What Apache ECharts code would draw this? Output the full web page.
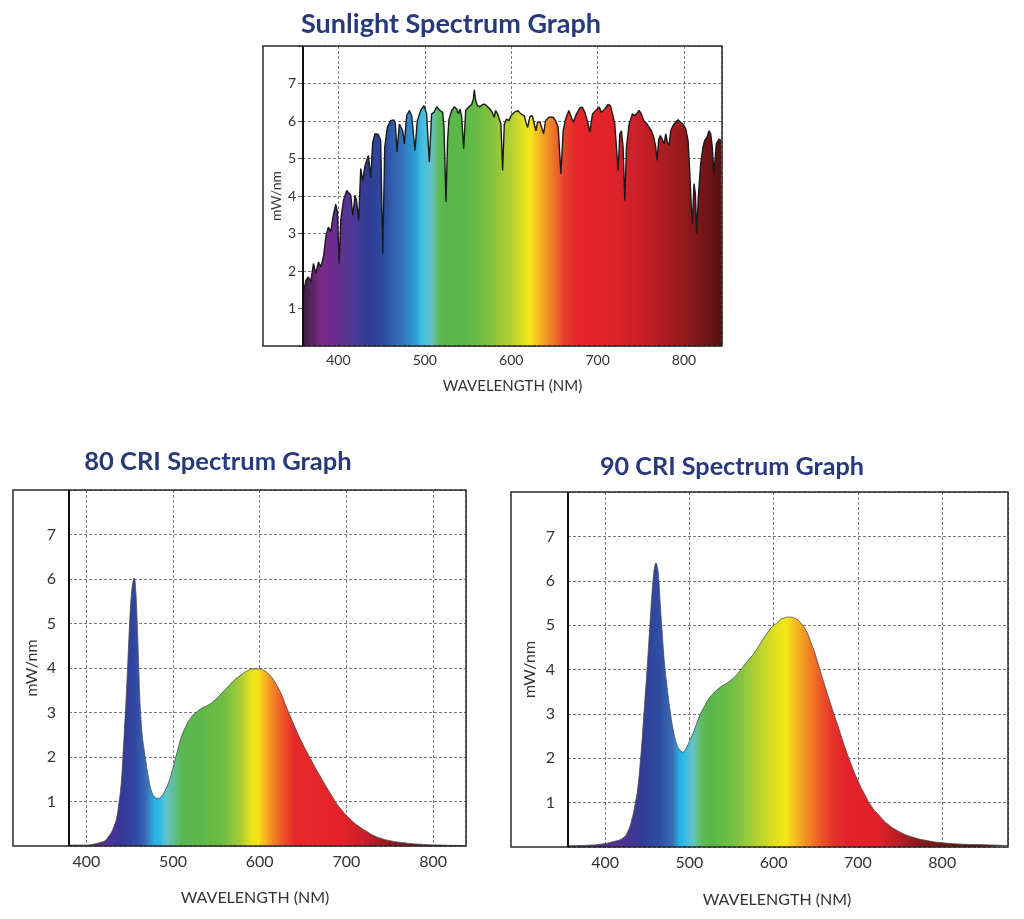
<!DOCTYPE html>
<html>
<head>
<meta charset="utf-8">
<title>Spectrum Graphs</title>
<script src="https://cdn.jsdelivr.net/npm/echarts@6/dist/echarts.min.js"></script>
<style>
  html, body { margin: 0; padding: 0; background: #fff; }
  #chart { width: 1024px; height: 919px; }
</style>
</head>
<body>
<div id="chart"></div>
<script>
// ---- data ----
var titles = ['Sunlight Spectrum Graph', '80 CRI Spectrum Graph', '90 CRI Spectrum Graph'];
var xTicks = [400, 500, 600, 700, 800];
var yTicks = [1, 2, 3, 4, 5, 6, 7];

var sunWl = [359, 360.3, 362.6, 365.3, 368, 371.1, 373.8, 376.9, 379.6, 382.7, 385.7, 388.4, 391.1, 393.4, 396.9, 398.8,
  400.8, 402.7, 405.8, 409.6, 411.6, 414.3, 416.6, 419.3, 421.2, 423.5, 425.8, 428.1, 430.8, 434.7, 437.4, 439.7,
  442.4, 446.2, 448.9, 451.3, 453.6, 456.6, 460.5, 464.4, 465.9, 467.8, 470.5, 472.4, 474.4, 476.3, 479, 482.1,
  484.8, 488.6, 491.3, 495.2, 499, 502.1, 505.2, 507.9, 510.6, 513.7, 517.5, 520.6, 522.2, 524.5, 526.4, 528,
  531.1, 534.2, 536.9, 538.8, 540.7, 542.7, 545, 547.3, 551.1, 554.2, 556.2, 557.3, 558.9, 560.8, 563.9, 566.6,
  569.6, 572.7, 575.4, 578.1, 580.4, 582, 584.3, 586.2, 588.1, 590.1, 592, 594.7, 597.4, 599.7, 603.6, 607.4,
  611.3, 615.1, 617, 619, 621.7, 624.4, 626.7, 628.6, 630.5, 633.2, 635.2, 637.5, 639.8, 643.6, 645.9, 648.6,
  651.3, 654.4, 657.5, 660.2, 662.9, 666.7, 669, 671.8, 673.7, 675.6, 679.5, 682.2, 685.3, 689.1, 691, 694.1,
  697.9, 701.8, 704.5, 708.3, 712.2, 714.9, 717.2, 719.9, 721.8, 723.8, 725.7, 727.6, 729.5, 731.5, 733.4, 736.5,
  740.3, 743, 745.7, 748, 750.7, 753.4, 755.7, 757.3, 759.6, 762.3, 765, 767.3, 768.8, 770.8, 772.7, 775,
  777, 778.9, 780.8, 782.7, 784.6, 787.3, 790.4, 793.1, 795.8, 798.9, 802, 804.7, 806.6, 808.5, 809.7, 811.6,
  813.2, 814.7, 816.6, 819.3, 822, 824, 826.6, 829, 830.9, 832.8, 834.7, 837.4, 840.5, 843.2, 844];
var sunVal = [1.45, 1.53, 1.76, 1.84, 1.71, 2.2, 1.93, 2.24, 2.11, 2.38, 2.95, 3.17, 3.04, 3.4, 3.78, 3.57,
  2.2, 3.35, 3.88, 4.15, 4.19, 4.02, 3.48, 4.02, 3.84, 3.35, 4.73, 4.41, 4.81, 5.08, 4.5, 5.43,
  5.66, 5.64, 5.48, 2.46, 5.3, 5.83, 6.01, 6.03, 5.92, 5.17, 5.92, 5.97, 5.74, 5.39, 6.14, 6.28,
  6.14, 5.21, 6.01, 6.28, 6.41, 6.19, 4.9, 6.19, 6.23, 6.38, 6.28, 6.23, 5.83, 3.84, 5.5, 6.05,
  6.28, 6.38, 6.32, 6.19, 6.32, 6.1, 5.26, 6.28, 6.38, 6.44, 6.59, 6.83, 6.54, 6.41, 6.38, 6.44,
  6.45, 6.38, 6.32, 6.23, 6.1, 6.28, 6.19, 6.14, 5.92, 4.68, 5.92, 6.05, 6.01, 6.14, 6.23, 6.28,
  6.19, 6.14, 5.97, 5.83, 6.12, 6.14, 5.92, 5.74, 5.97, 5.97, 5.83, 5.66, 6.01, 6.1, 6.14, 6.1,
  6.01, 5.83, 4.59, 5.74, 6.05, 6.28, 6.29, 5.97, 5.92, 6.19, 6.35, 6.37, 6.23, 5.92, 5.7, 6.19,
  6.28, 6.37, 6.23, 6.32, 6.44, 6.41, 6.19, 5.92, 5.3, 4.68, 5.66, 5.74, 5.3, 3.88, 5.3, 5.92,
  6.19, 6.14, 6.21, 6.28, 6.19, 6.01, 5.97, 5.92, 5.83, 5.74, 5.57, 5.3, 4.95, 5.52, 5.61, 5.66,
  5.39, 5.66, 5.43, 5.35, 5.74, 5.88, 5.97, 6.03, 5.97, 5.92, 5.79, 5.48, 4.68, 3.71, 3.26, 4.33,
  4.06, 3.0, 3.97, 4.86, 5.3, 5.48, 5.57, 5.74, 5.66, 5.3, 4.59, 5.39, 5.52, 5.48, 5.48];

var cri80Wl = [380, 395, 405, 410.4, 416, 421.6, 425, 429, 432, 434.7, 437.5, 440.3, 442, 444, 446, 447.8,
  449.3, 450.7, 452, 453.4, 455.2, 457, 458, 459, 460.3, 461.6, 463, 464.6, 466.5, 468.3, 472, 475.7,
  479.5, 483.2, 487, 490.7, 495.5, 500, 504.5, 509.3, 514.9, 520.5, 526.1, 533.6, 541, 548.5, 556, 563.4,
  570.9, 578.4, 585.8, 593.3, 598.9, 604.5, 610, 615, 620, 625, 630, 635, 640, 645, 650, 655,
  660, 665, 670, 675, 680, 685, 690, 695, 700, 708, 716, 724, 732, 740, 750, 763, 785, 810, 838];
var cri80Val = [0.02, 0.02, 0.03, 0.05, 0.08, 0.12, 0.2, 0.31, 0.45, 0.61, 0.95, 1.42, 1.95, 2.62, 3.35, 4.1,
  4.75, 5.29, 5.65, 5.89, 6.02, 5.73, 5.35, 4.85, 4.1, 3.36, 2.85, 2.47, 2.18, 1.95, 1.5, 1.2,
  1.09, 1.07, 1.13, 1.24, 1.46, 1.76, 2.09, 2.43, 2.69, 2.88, 2.99, 3.1, 3.17, 3.28, 3.43, 3.58,
  3.73, 3.84, 3.94, 3.98, 3.98, 3.95, 3.87, 3.76, 3.6, 3.41, 3.16, 2.93, 2.7, 2.48, 2.28, 2.09,
  1.91, 1.73, 1.56, 1.39, 1.23, 1.07, 0.92, 0.8, 0.69, 0.54, 0.42, 0.32, 0.23, 0.17, 0.12, 0.08, 0.04, 0.02, 0.01];

var cri90Wl = [356, 380, 394, 409.6, 421, 427, 432.7, 435.5, 438.5, 441.5, 444.2, 447, 450, 452, 453.8, 455.8,
  457.7, 459, 460.4, 461.5, 462.7, 464, 465.4, 467.3, 469.2, 471, 473, 475, 477, 480.8, 484.6, 488.5,
  492.3, 496.2, 500, 505.9, 511.8, 517.6, 523.5, 529.4, 537.3, 545, 553, 560.8, 568.6, 576.5, 584.3, 592,
  600, 604.8, 608, 612.7, 616.5, 620.6, 624.6, 628.6, 632.5, 636.5, 640.5, 644.4, 648.4, 652.4, 656.3, 660.3,
  668.3, 676.2, 684.1, 692, 700, 707.9, 715.9, 723.8, 735.7, 747.6, 763.5, 783.3, 803.2, 827, 850.8, 878];
var cri90Val = [0.03, 0.04, 0.06, 0.12, 0.2, 0.35, 0.69, 0.95, 1.29, 1.85, 2.49, 3.25, 4.06, 4.65, 5.19, 5.75,
  6.16, 6.33, 6.4, 6.35, 6.24, 5.95, 5.49, 4.95, 4.44, 4.03, 3.69, 3.37, 3.09, 2.64, 2.34, 2.19,
  2.14, 2.23, 2.38, 2.64, 2.94, 3.16, 3.35, 3.48, 3.61, 3.7, 3.82, 3.99, 4.18, 4.36, 4.59, 4.81,
  5.0, 5.05, 5.13, 5.16, 5.18, 5.18, 5.16, 5.12, 5.04, 4.94, 4.8, 4.6, 4.4, 4.15, 3.9, 3.66,
  3.18, 2.73, 2.27, 1.86, 1.49, 1.19, 0.92, 0.74, 0.51, 0.36, 0.23, 0.14, 0.09, 0.06, 0.05, 0.03];

var seriesWl = [sunWl, cri80Wl, cri90Wl];
var seriesVal = [sunVal, cri80Val, cri90Val];

// ---- styles ----
// spectrum colour stops per chart: [wavelength, colour]
var spectrumStops = [
  [[359, '#3a1c40'], [368, '#55265f'], [380, '#7a2a88'], [395, '#6c2b8c'], [415, '#4f3896'], [435, '#2f3c95'],
   [455, '#2e4ea3'], [472, '#3470b8'], [488, '#2a9bd6'], [497, '#40bde2'], [507, '#62c3c8'], [517, '#5fba55'],
   [525, '#56b748'], [550, '#5db947'], [575, '#80c040'], [600, '#b6d032'], [614, '#e2e022'], [623, '#f5e51b'],
   [632, '#f6b824'], [645, '#f08426'], [660, '#e8462a'], [675, '#e42529'], [720, '#e0222a'], [757, '#c21e26'],
   [795, '#9a1b1f'], [820, '#7a1518'], [844, '#561010']],
  [[380, '#4a2a80'], [420, '#5a2e92'], [440, '#36399a'], [455, '#2e45a0'], [468, '#3a68b5'], [478, '#2cabe3'],
   [484, '#2ab8e8'], [492, '#62c2cc'], [502, '#5fbe8a'], [510, '#5ab850'], [530, '#5cb848'], [560, '#72bd43'],
   [578, '#a8cd35'], [590, '#e8e21e'], [598, '#f5e41a'], [606, '#f7b523'], [615, '#f28626'], [628, '#ec5228'],
   [640, '#e42a2a'], [695, '#e42229'], [720, '#c8202a'], [750, '#901a1f'], [790, '#6a1616'], [838, '#551212']],
  [[356, '#4a2a80'], [420, '#54308f'], [445, '#313e96'], [465, '#2f4ea3'], [480, '#3a6cb4'], [488, '#28b0e4'],
   [494, '#30bde6'], [504, '#66c3c4'], [515, '#5fba58'], [525, '#58b748'], [555, '#78c043'], [585, '#bcd52e'],
   [605, '#e8e21d'], [615, '#f3e41a'], [625, '#f7bf20'], [640, '#f28a26'], [655, '#ed5a28'], [670, '#e6332a'],
   [685, '#e3232a'], [725, '#e0212a'], [752, '#b01c22'], [780, '#7c1819'], [830, '#601414'], [878, '#501010']]
];

var panels = [
  { left: 303, top: 46, width: 419, height: 300, frameLeft: 263, xMin: 359, xMax: 844,
    titleX: 451, titleY: 24, titleSize: 27, tickSize: 14, nameSize: 14, xNameSize: 15, yLabelMargin: 7, xLabelMargin: 7,
    yNameGap: 18, xNameGap: 33, xNameShift: 0, lineColor: '#1b1b1b', lineWidth: 1.4, smooth: false, yTick: true },
  { left: 69, top: 490, width: 397, height: 356, frameLeft: 13, xMin: 380, xMax: 838,
    titleX: 218, titleY: 462, titleSize: 25.5, tickSize: 16, nameSize: 16, xNameSize: 16, yLabelMargin: 13, xLabelMargin: 8,
    yNameGap: 29, xNameGap: 44, xNameShift: 25, lineColor: '#4a4a4a', lineWidth: 0.8, smooth: 0.5, yTick: false },
  { left: 568, top: 492, width: 440, height: 355, frameLeft: 511, xMin: 356, xMax: 878,
    titleX: 732, titleY: 467, titleSize: 25.2, tickSize: 16, nameSize: 16, xNameSize: 16, yLabelMargin: 13, xLabelMargin: 8,
    yNameGap: 30, xNameGap: 45, xNameShift: 22, lineColor: '#4a4a4a', lineWidth: 0.8, smooth: 0.5, yTick: false }
];

var FONT = 'Lato, "Open Sans", sans-serif';
var gridLine = { show: true, lineStyle: { color: '#7a7a7a', width: 1, type: [3, 2] } };

function spectrumGradient(stops, wMin, wMax) {
  return new echarts.graphic.LinearGradient(0, 0, 1, 0, stops.map(function(s) {
    return { offset: Math.min(1, Math.max(0, (s[0] - wMin) / (wMax - wMin))), color: s[1] };
  }));
}

var grids = [], xAxes = [], yAxes = [], series = [], graphics = [];

panels.forEach(function(p, i) {
  grids.push({ left: p.left, top: p.top, width: p.width, height: p.height, containLabel: false });

  xAxes.push({
    type: 'value', gridIndex: i, min: p.xMin, max: p.xMax, splitNumber: 5,
    minInterval: 100, maxInterval: 100,
    name: 'WAVELENGTH (NM)', nameLocation: 'middle', nameGap: p.xNameGap,
    nameTextStyle: { fontFamily: FONT, fontSize: p.xNameSize, color: '#333', padding: [0, p.xNameShift, 0, 0] },
    axisLine: { show: false }, axisTick: { show: false },
    axisLabel: {
      margin: p.xLabelMargin, fontFamily: FONT, fontSize: p.tickSize, color: '#333',
      formatter: function(v) { return xTicks.indexOf(v) >= 0 ? String(v) : ''; }
    },
    splitLine: gridLine
  });

  yAxes.push({
    type: 'value', gridIndex: i, min: 0, max: 8, interval: 1,
    name: 'mW/nm', nameLocation: 'middle', nameRotate: 90, nameGap: p.yNameGap,
    nameTextStyle: { fontFamily: FONT, fontSize: p.nameSize, color: '#333' },
    axisLine: { show: false },
    axisTick: { show: p.yTick, length: 5, lineStyle: { color: '#555' } },
    axisLabel: {
      margin: p.yLabelMargin, fontFamily: FONT, fontSize: p.tickSize, color: '#333',
      formatter: function(v) { return yTicks.indexOf(v) >= 0 ? String(v) : ''; }
    },
    splitLine: gridLine
  });

  var wl = seriesWl[i], val = seriesVal[i];
  series.push({
    type: 'line', name: titles[i], xAxisIndex: i, yAxisIndex: i,
    data: wl.map(function(w, k) { return [w, val[k]]; }),
    symbol: 'none', smooth: p.smooth,
    lineStyle: { color: p.lineColor, width: p.lineWidth },
    areaStyle: { color: spectrumGradient(spectrumStops[i], wl[0], wl[wl.length - 1]), opacity: 1 },
    silent: true
  });

  // outer frame and the y axis line, drawn above the fill
  graphics.push({
    type: 'rect', z: 100, silent: true,
    shape: { x: p.frameLeft, y: p.top, width: p.left + p.width - p.frameLeft, height: p.height },
    style: { fill: null, stroke: '#2a2a2a', lineWidth: 1.5 }
  });
  graphics.push({
    type: 'line', z: 101, silent: true,
    shape: { x1: p.left, y1: p.top, x2: p.left, y2: p.top + p.height },
    style: { stroke: '#111', lineWidth: 2 }
  });
  graphics.push({
    type: 'text', z: 100, silent: true, x: p.titleX, y: p.titleY,
    style: { text: titles[i], fill: '#27397a', fontFamily: FONT, fontWeight: 'bold', fontSize: p.titleSize,
      align: 'center', verticalAlign: 'middle' }
  });
});

var chart = echarts.init(document.getElementById('chart'), null, { renderer: 'canvas' });
chart.setOption({
  animation: false,
  backgroundColor: '#ffffff',
  grid: grids,
  xAxis: xAxes,
  yAxis: yAxes,
  series: series,
  graphic: graphics
});
</script>
</body>
</html>
